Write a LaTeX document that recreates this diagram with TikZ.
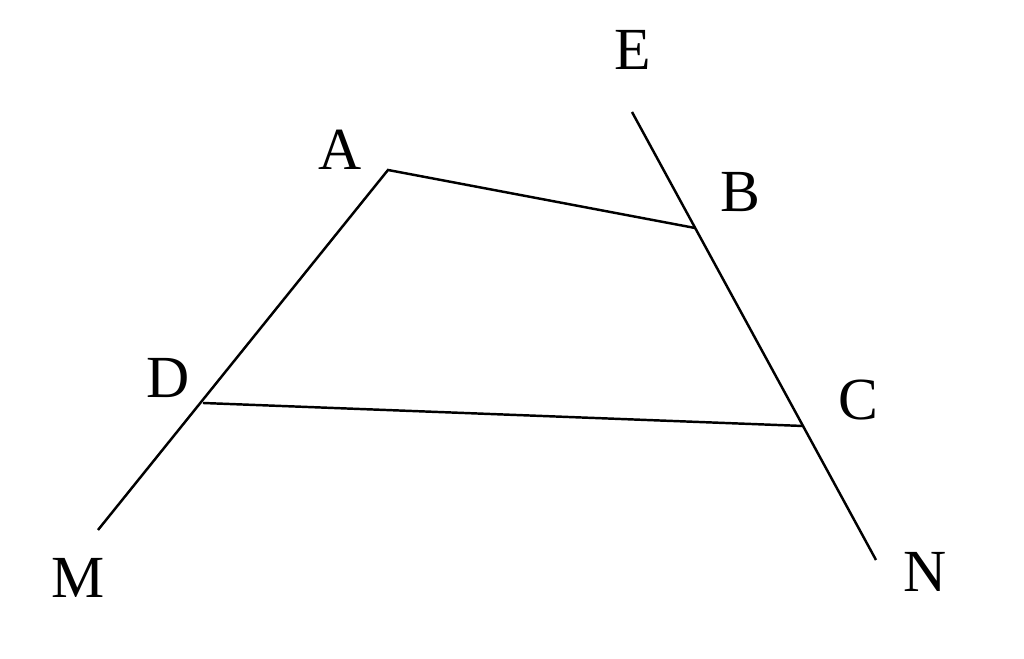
\documentclass[tikz,border=0pt]{standalone}
\usepackage{fontspec}
\setmainfont{Liberation Serif}
\begin{document}
\begin{tikzpicture}[line width=0.7pt, lbl/.style={font=\fontsize{17}{20}\selectfont, inner sep=0pt}]
  \useasboundingbox (0,0) rectangle (10.24,6.59);

  % Points
  \coordinate (M) at (0.98,1.29);
  \coordinate (D) at (2.03,2.56);
  \coordinate (A) at (3.88,4.89);
  \coordinate (E) at (6.32,5.47);
  \coordinate (B) at (6.95,4.31);
  \coordinate (C) at (8.03,2.33);
  \coordinate (N) at (8.76,0.99);

  % Lines
  \draw (M) -- (A) -- (B);
  \draw (E) -- (N);
  \draw (D) -- (C);

  % Labels
  \node[lbl] (lE) at (6.33,6.09) {E};
  \node[lbl] (lA) at (3.40,5.09) {A};
  \node[lbl] (lB) at (7.40,4.67) {B};
  \node[lbl] (lD) at (1.68,2.81) {D};
  \node[lbl] (lC) at (8.58,2.59) {C};
  \node[lbl] (lM) at (0.78,0.81) {M};
  \node[lbl] (lN) at (9.25,0.87) {N};
\end{tikzpicture}
\end{document}
